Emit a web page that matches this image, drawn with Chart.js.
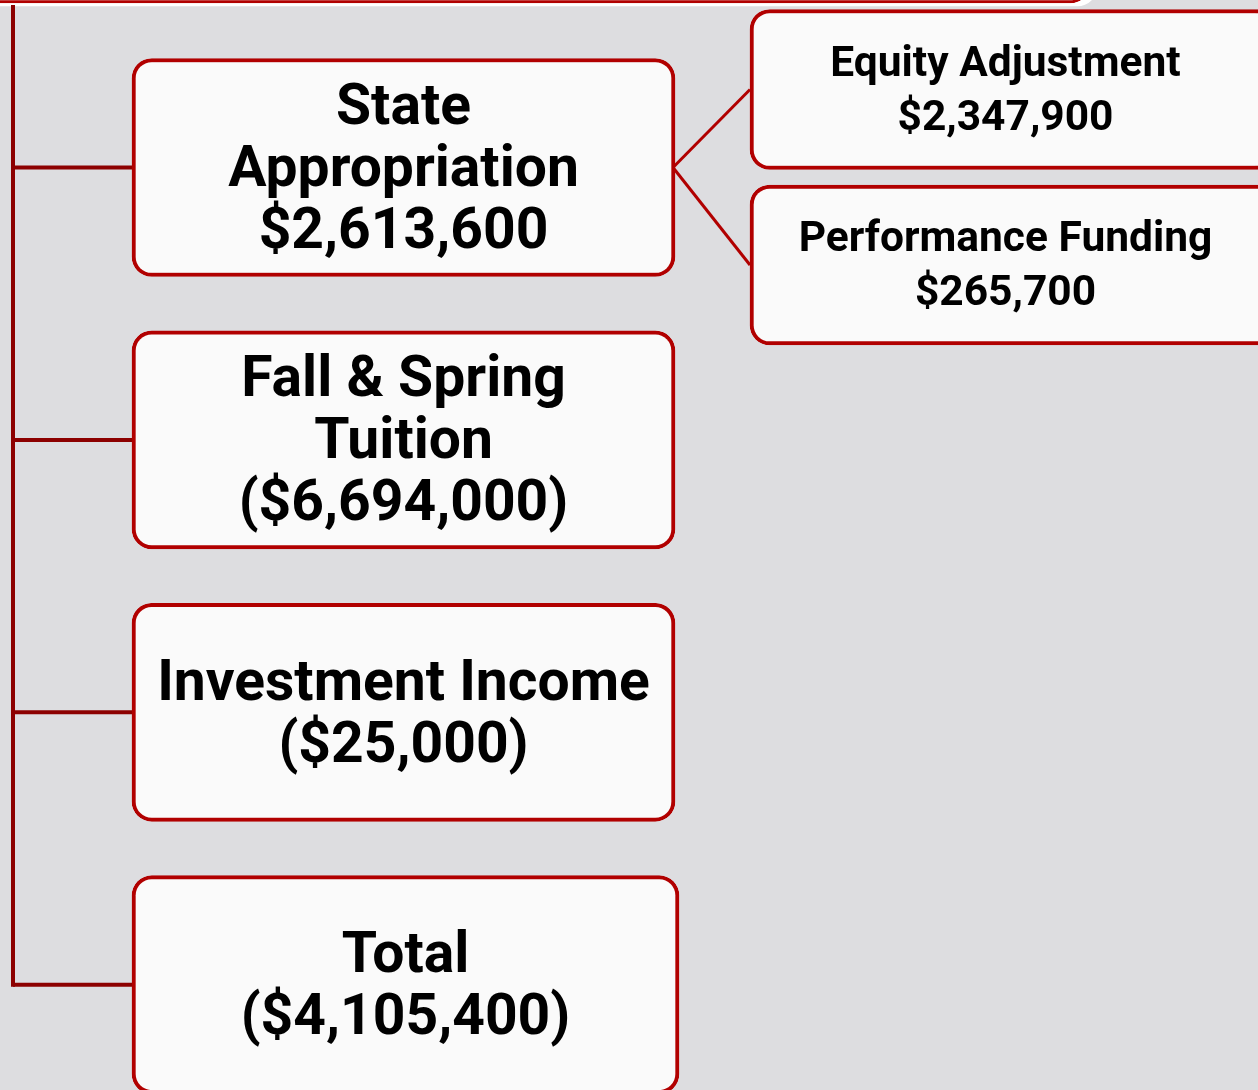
<!DOCTYPE html>
<html>
<head>
<meta charset="utf-8">
<script src="https://cdn.jsdelivr.net/npm/chart.js@4.4.1/dist/chart.umd.min.js"></script>
<style>
  html, body { margin: 0; padding: 0; background: #dddde0; }
  canvas { display: block; }
</style>
</head>
<body>
<canvas id="myChart" width="1258" height="1090"></canvas>
<script>
// tree data
const categories = [['State', 'Appropriation'], ['Fall & Spring', 'Tuition'], ['Investment Income'], ['Total']];
const amounts = [2613600, -6694000, -25000, -4105400];
const subCategories = [['Equity Adjustment'], ['Performance Funding']];
const subAmounts = [2347900, 265700];

const RED = '#b10000';
const DARK_RED = '#8c0000';
const FILL = '#fafafa';

// layout (pixels, the scales map 1:1 onto the canvas)
const trunkX = 13;
const leftBox = [132, 675];
const rightBox = [750, 1275];
const rowCenter = i => 167.5 + i * 272.4;
const subCenter = j => 89.5 + j * 175.5;

function money(v) {
    const s = '$' + Math.abs(v).toLocaleString('en-US');
    return v < 0 ? '(' + s + ')' : s;
}

document.addEventListener('DOMContentLoaded', function () {
    const lineStyle = color => ({
        type: 'scatter',
        showLine: true,
        borderColor: color,
        borderWidth: 4,
        pointRadius: 0,
        order: 3,
        clip: false,
    });

    const connectors = [
        { ...lineStyle(DARK_RED), data: [{ x: trunkX, y: 5 }, { x: trunkX, y: rowCenter(categories.length - 1) + 2 }] },
        ...categories.map((_, i) => ({
            ...lineStyle(DARK_RED),
            data: [{ x: trunkX, y: rowCenter(i) }, { x: leftBox[0], y: rowCenter(i) }],
        })),
        ...subCategories.map((_, j) => ({
            ...lineStyle(RED),
            borderWidth: 3,
            data: [{ x: leftBox[1] - 2, y: rowCenter(0) }, { x: rightBox[0], y: subCenter(j) }],
        })),
    ];

    const boxStyle = {
        type: 'bar',
        grouped: false,
        backgroundColor: FILL,
        borderColor: RED,
        borderWidth: 4,
        borderSkipped: false,
        borderRadius: 20,
        clip: false,
        order: 1,
    };

    const datasets = [
        // box cut off at the top edge (white rim behind it)
        { ...boxStyle, id: 'topWhite', backgroundColor: '#ffffff', borderWidth: 0,
          barThickness: 200, data: [{ x: [-40, 1097], y: -94 }], order: 5 },
        { ...boxStyle, id: 'top', borderWidth: 3, barThickness: 200, data: [{ x: [-40, 1090], y: -97 }], order: 4 },
        ...connectors,
        { ...boxStyle, id: 'main', barThickness: 218,
          data: categories.map((_, i) => ({ x: [leftBox[0], leftBox[1] + (i === categories.length - 1 ? 4 : 0)], y: rowCenter(i) })) },
        { ...boxStyle, id: 'sub', barThickness: 160,
          data: subCategories.map((_, j) => ({ x: rightBox, y: subCenter(j) })) },
    ];

    const boxText = {
        id: 'boxText',
        afterDatasetsDraw(chart) {
            const ctx = chart.ctx;
            ctx.save();
            ctx.fillStyle = '#000';
            ctx.textAlign = 'center';
            ctx.textBaseline = 'alphabetic';
            chart.data.datasets.forEach((ds, di) => {
                if (ds.id !== 'main' && ds.id !== 'sub') return;
                const main = ds.id === 'main';
                const names = main ? categories : subCategories;
                const vals = main ? amounts : subAmounts;
                const size = main ? 57 : 42.5;
                const lh = main ? 62 : 54;
                const cap = size * 0.71;
                ctx.font = 'bold ' + size + 'px Roboto';
                chart.getDatasetMeta(di).data.forEach((el, k) => {
                    const lines = [...names[k], money(vals[k])];
                    const cx = (el.x + el.base) / 2 + (main ? 0 : -7);
                    lines.forEach((t, li) => {
                        const y = el.y + (li - (lines.length - 1) / 2) * lh + cap / 2 - 2;
                        ctx.fillText(t, cx, y);
                    });
                });
            });
            ctx.restore();
        },
    };

    new Chart(document.getElementById('myChart').getContext('2d'), {
        type: 'bar',
        data: { datasets },
        options: {
            indexAxis: 'y',
            responsive: false,
            animation: false,
            layout: { padding: 0 },
            scales: {
                x: { type: 'linear', min: 0, max: 1258, display: false, offset: false, grace: 0 },
                y: { type: 'linear', min: 0, max: 1090, reverse: true, display: false, offset: false, grace: 0 },
            },
            plugins: { legend: { display: false }, tooltip: { enabled: false } },
        },
        plugins: [boxText],
    });
});
</script>
</body>
</html>
